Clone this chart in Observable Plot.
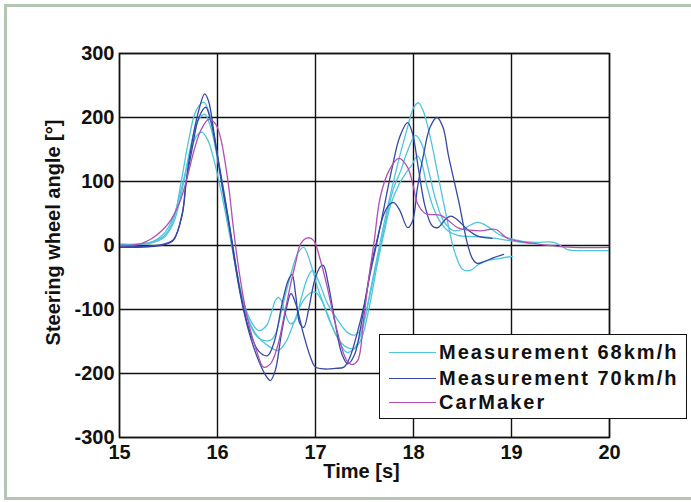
<!DOCTYPE html>
<html>
<head>
<meta charset="utf-8">
<script src="https://cdn.jsdelivr.net/npm/d3@7"></script>
<script src="https://cdn.jsdelivr.net/npm/@observablehq/plot@0.6"></script>
<style>
  html, body { margin: 0; padding: 0; background: #fff; }
  body { width: 691px; height: 502px; overflow: hidden; position: relative; font-family: "Liberation Sans", Arial, sans-serif; }
  #border { position: absolute; left: 4px; top: 4px; width: 720px; height: 490px; border: 3px solid #b3c6b3; box-sizing: content-box; }
  #chart { position: absolute; left: 0; top: 0; }
  #legend { position: absolute; left: 379px; top: 334px; width: 306px; height: 83px; border: 1.5px solid #111; background: #fff; }
  .row { position: absolute; left: 0; height: 24px; display: flex; align-items: center; font-weight: bold; font-size: 20px; letter-spacing: 2px; color: #111; white-space: nowrap; }
  .sw { display: inline-block; width: 47px; height: 0; border-top: 1.5px solid; margin-left: 9px; margin-right: 3px; }
</style>
</head>
<body>
<div id="border"></div>
<div id="chart"></div>
<div id="legend"></div>
<script>
// ---- Data ----
const xTicks = [15, 16, 17, 18, 19, 20];
const yTicks = [-300, -200, -100, 0, 100, 200, 300];
const seriesNames = ["Measurement 68km/h", "Measurement 70km/h", "CarMaker"];
const seriesColors = ["#4ec5dc", "#3548a4", "#b24fb2"];

// Measurement 68 km/h, run 1
const m68aT = [15.0,15.3,15.45,15.55,15.63,15.7,15.78,15.86,15.92,16.0,16.08,16.15,16.22,16.3,16.38,16.46,16.55,16.6,16.66,16.74,16.82,16.88,16.95,17.02,17.12,17.22,17.32,17.4,17.48,17.56,17.64,17.7,17.78,17.86,17.94,18.0,18.05,18.1,18.17,18.25,18.33,18.42,18.5,18.58,18.66,18.75,18.89,19.01];
const m68aV = [2,4,14,40,100,160,210,224,205,140,70,5,-60,-110,-138,-148,-147,-135,-97,-50,-12,-3,-28,-65,-106,-143,-167,-160,-130,-70,-10,35,90,140,185,215,223,210,170,110,50,-10,-37,-39,-30,-24,-20,-17];
// Measurement 68 km/h, run 2
const m68bT = [15.0,15.3,15.45,15.55,15.65,15.72,15.79,15.84,15.9,15.97,16.05,16.12,16.18,16.25,16.33,16.42,16.5,16.55,16.59,16.62,16.65,16.69,16.74,16.79,16.85,16.92,16.97,17.03,17.12,17.22,17.32,17.4,17.46,17.53,17.6,17.67,17.74,17.8,17.87,17.94,18.02,18.08,18.15,18.22,18.3,18.36,18.41,18.5,18.58,18.65,18.72,18.8,18.9,18.96,19.1,19.25,19.43,19.5,19.58,19.7,20.0];
const m68bV = [2,4,18,45,100,145,172,177,165,130,75,20,-30,-80,-115,-133,-125,-105,-86,-81,-86,-105,-122,-118,-85,-50,-39,-55,-90,-115,-135,-140,-132,-95,-45,5,55,91,117,148,172,160,120,75,40,28,23,25,32,36,33,25,15,12,7,5,5,0,-7,-8,-8];
// Measurement 68 km/h, run 3
const m68cT = [15.0,15.3,15.45,15.55,15.65,15.72,15.8,15.87,15.93,16.0,16.08,16.15,16.22,16.3,16.4,16.5,16.62,16.7,16.78,16.86,16.94,17.0,17.06,17.15,17.25,17.33,17.4,17.47,17.55,17.63,17.7,17.77,17.85,17.93,17.98,18.04,18.08,18.14,18.2,18.26,18.35,18.45,18.6,18.75,18.96,19.1,19.2];
const m68cV = [1,3,12,35,95,150,195,205,185,135,65,0,-65,-110,-140,-155,-164,-150,-120,-90,-75,-73,-85,-120,-150,-160,-161,-145,-95,-30,20,65,95,115,125,140,130,91,60,40,23,16,14,13,8,5,3];
// Measurement 70 km/h, run 1
const m70aT = [15.0,15.3,15.45,15.55,15.64,15.68,15.73,15.8,15.87,15.91,15.97,16.05,16.12,16.17,16.25,16.33,16.42,16.5,16.54,16.59,16.65,16.7,16.75,16.8,16.88,16.95,17.0,17.1,17.2,17.29,17.35,17.42,17.5,17.57,17.63,17.7,17.76,17.8,17.86,17.94,17.99,18.04,18.1,18.17,18.24,18.3,18.36,18.46,18.55,18.6,18.65,18.72,18.82,18.92];
const m70aV = [-3,-2,1,8,50,100,153,206,237,225,170,90,30,-20,-90,-140,-180,-205,-211,-195,-140,-100,-75,-92,-140,-175,-190,-193,-192,-190,-175,-140,-90,-30,10,50,65,67,55,28,38,90,140,185,200,185,138,70,3,-20,-28,-25,-19,-14];
// Measurement 70 km/h, run 2
const m70bT = [15.0,15.3,15.45,15.55,15.64,15.68,15.74,15.81,15.88,15.93,16.0,16.08,16.15,16.23,16.32,16.42,16.51,16.58,16.66,16.72,16.76,16.8,16.84,16.88,16.93,16.99,17.05,17.08,17.13,17.2,17.27,17.33,17.4,17.47,17.55,17.62,17.7,17.78,17.86,17.94,17.99,18.05,18.12,18.19,18.25,18.32,18.38,18.45,18.55,18.65,18.8];
const m70bV = [-2,-1,2,9,48,98,150,200,216,195,140,70,5,-70,-130,-165,-172,-150,-90,-55,-45,-80,-122,-128,-100,-55,-33,-31,-60,-120,-170,-185,-170,-120,-50,0,60,120,170,192,175,120,60,31,28,40,46,40,25,15,11];
// CarMaker simulation
const cmT = [15.0,15.2,15.33,15.43,15.52,15.62,15.69,15.76,15.83,15.91,15.98,16.03,16.08,16.12,16.16,16.22,16.3,16.4,16.47,16.54,16.61,16.68,16.74,16.8,16.85,16.92,16.98,17.05,17.12,17.22,17.32,17.37,17.43,17.49,17.54,17.6,17.66,17.75,17.85,17.94,18.0,18.04,18.12,18.28,18.38,18.46,18.68,18.84,18.96,19.15,19.4,19.63,20.0];
const cmV = [0,2,11,23,39,70,106,148,180,197,190,169,128,85,30,-40,-110,-165,-190,-185,-159,-110,-65,-25,3,12,8,-23,-65,-133,-180,-186,-180,-117,-55,8,75,117,136,122,91,66,50,47,36,27,23,25,11,5,0,-3,-3];

const runs = [
  {name: "68a", group: seriesNames[0], t: m68aT, v: m68aV},
  {name: "68b", group: seriesNames[0], t: m68bT, v: m68bV},
  {name: "68c", group: seriesNames[0], t: m68cT, v: m68cV},
  {name: "70a", group: seriesNames[1], t: m70aT, v: m70aV},
  {name: "70b", group: seriesNames[1], t: m70bT, v: m70bV},
  {name: "cm",  group: seriesNames[2], t: cmT,  v: cmV}
];
const rows = runs.flatMap(r => r.t.map((t, i) => ({run: r.name, group: r.group, t, v: r.v[i]})));

const font = "Liberation Sans, Arial, sans-serif";
const chart = Plot.plot({
  width: 691,
  height: 502,
  marginLeft: 119,
  marginRight: 82,
  marginTop: 53,
  marginBottom: 65,
  style: {fontFamily: font, fontWeight: "bold", fontSize: "20px", color: "#111", background: "transparent", overflow: "visible"},
  x: {domain: [15, 20]},
  y: {domain: [-300, 300]},
  color: {domain: seriesNames, range: seriesColors},
  marks: [
    Plot.gridX(xTicks, {stroke: "#111", strokeOpacity: 1, strokeWidth: 1.4}),
    Plot.gridY(yTicks, {stroke: "#111", strokeOpacity: 1, strokeWidth: 1.4}),
    Plot.line(rows, {x: "t", y: "v", z: "run", stroke: "group", strokeWidth: 1.3, curve: "catmull-rom"}),
    Plot.frame({stroke: "#111", strokeWidth: 1.5}),
    Plot.axisX(xTicks, {tickSize: 0, tickPadding: 7, fontSize: 20, fontWeight: "bold", label: null, tickFormat: d => String(d)}),
    Plot.axisY(yTicks, {tickSize: 0, tickPadding: 5, fontSize: 20, fontWeight: "bold", label: null, tickFormat: d => String(d)}),
    Plot.text(["Time [s]"], {frameAnchor: "bottom", dx: -3, dy: 40, fontSize: 20, fontWeight: "bold", fill: "#111", letterSpacing: 0.5}),
    Plot.text(["Steering wheel angle [°]"], {frameAnchor: "left", textAnchor: "middle", rotate: -90, dx: -66, dy: -13, fontSize: 20, fontWeight: "bold", fill: "#111", letterSpacing: 1})
  ]
});
document.getElementById("chart").appendChild(chart);

const legend = document.getElementById("legend");
const rowTops = [5, 31, 55];
seriesNames.forEach((name, i) => {
  const row = document.createElement("div");
  row.className = "row";
  row.style.top = rowTops[i] + "px";
  const sw = document.createElement("span");
  sw.className = "sw";
  sw.style.borderTopColor = seriesColors[i];
  row.appendChild(sw);
  row.appendChild(document.createTextNode(name));
  legend.appendChild(row);
});
</script>
</body>
</html>
